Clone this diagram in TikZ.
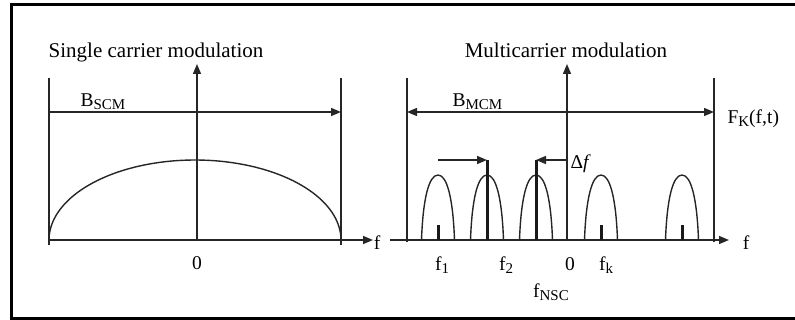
\documentclass[tikz,border=0pt]{standalone}
\usepackage{fontspec}
\setmainfont{Liberation Serif}
\usetikzlibrary{arrows.meta}
\newcommand{\lsub}[1]{\raisebox{-0.3ex}{\fontsize{15}{16}\selectfont #1}}
\begin{document}
\begin{tikzpicture}[x=1pt,y=-1pt,
  thinline/.style={line width=1.4pt, black!85},
  thickline/.style={line width=3pt, black!90},
  tip/.style={-{Triangle[length=10pt,width=8pt]}},
  dtip/.style={{Triangle[length=10pt,width=8pt]}-{Triangle[length=10pt,width=8pt]}},
  title/.style={font=\fontsize{21}{24}\selectfont, anchor=base},
  lbl/.style={font=\fontsize{19.5}{22}\selectfont, anchor=base},
  hump/.pic={\draw[thinline] (-16.5,0) .. controls (-15,-42) and (-9,-65) .. (0,-65) .. controls (9,-65) and (15,-42) .. (16.5,0);}
]
\useasboundingbox (0,0) rectangle (795,320);
\draw[line width=3pt] (800,5) -- (11,5) -- (11,318) -- (800,318);

% ---------- left panel ----------
\coordinate (Lb0) at (49,240);
\coordinate (Lend) at (373,240);
\coordinate (Lax0) at (197,240);
\coordinate (Laxt) at (197,64);
\coordinate (Lvl0) at (49,78);
\coordinate (Lvl1) at (49,245);
\coordinate (Lvr0) at (341,78);
\coordinate (Lvr1) at (341,245);
\coordinate (La0) at (49,112);
\coordinate (La1) at (341,112);

\draw[thinline] (Lvl0) -- (Lvl1);
\draw[thinline] (Lvr0) -- (Lvr1);
\draw[thinline, tip] (Lb0) -- (Lend);
\draw[thinline, tip] (Lax0) -- (Laxt);
\draw[thinline, tip] (La0) -- (La1);
\draw[thinline] plot[domain=180:360, samples=80] ({195+146*cos(\x)}, {240+80*sin(\x)});

\node[title] (tl) at (156,58) {Single carrier modulation};
\node[lbl, anchor=base west] (bscm) at (77,107) {B\lsub{SCM}};
\node[lbl] (fl) at (377,250) {f};
\node[lbl] (zl) at (197,270) {0};

% ---------- right panel ----------
\coordinate (Rb0) at (390,240);
\coordinate (Rend) at (729,240);
\coordinate (Rax0) at (567,240);
\coordinate (Raxt) at (567,64);
\coordinate (Rvl0) at (407,78);
\coordinate (Rvl1) at (407,242);
\coordinate (Rvr0) at (714,78);
\coordinate (Rvr1) at (714,242);
\coordinate (Ra0) at (407,112);
\coordinate (Ra1) at (714,112);

\draw[thinline] (Rvl0) -- (Rvl1);
\draw[thinline] (Rvr0) -- (Rvr1);
\draw[thinline, tip] (Rb0) -- (Rend);
\draw[thinline, tip] (Rax0) -- (Raxt);
\draw[thinline, dtip] (Ra0) -- (Ra1);

\foreach \c in {438,487,536,601,682} { \pic at (\c,240) {hump}; }
\foreach \c in {438,601,682} { \draw[thickline] (\c,240) -- (\c,225); }

\coordinate (s2b) at (487,240);
\coordinate (s2t) at (487,160);
\coordinate (s3b) at (536,240);
\coordinate (s3t) at (536,160);
\coordinate (a1s) at (438,160);
\coordinate (a2s) at (567,160);
\draw[thickline] (s2b) -- (s2t);
\draw[thickline] (s3b) -- (s3t);
\draw[thinline, line width=1.6pt, tip] (a1s) -- (s2t);
\draw[thinline, line width=1.6pt, tip] (a2s) -- (s3t);

\node[title] (tr) at (566,58) {Multicarrier modulation};
\node[lbl, anchor=base west] (bmcm) at (449,107) {B\lsub{MCM}};
\node[lbl, anchor=base west] (fk) at (724,124) {F\lsub{K}(f,t)};
\node[lbl, anchor=base west] (df) at (567,169) {Δ\textit{f}};
\node[lbl] (fr) at (746,250) {f};
\node[lbl] (f1) at (442,271) {f\lsub{1}};
\node[lbl] (f2) at (506,271) {f\lsub{2}};
\node[lbl] (zr) at (570,271) {0};
\node[lbl] (fkk) at (606,271) {f\lsub{k}};
\node[lbl] (fnsc) at (551,298) {f\lsub{NSC}};
\end{tikzpicture}
\end{document}
